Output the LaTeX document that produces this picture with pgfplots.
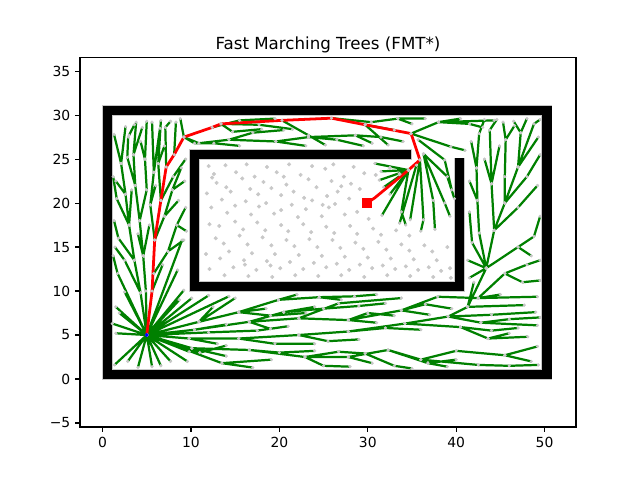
\documentclass[border=0pt]{standalone}
\usepackage{pgfplots}
\usepackage{pgfplotstable}
\pgfplotsset{compat=1.18}
\usepackage{fontspec}
\setmainfont{DejaVu Sans}
\definecolor{mgreen}{RGB}{0,128,0}
\definecolor{ptgray}{RGB}{200,200,200}

\pgfplotstableread{
x y
5 5
4.3 9.8
3.6 13.5
3.0 17.5
2.6 21
2.1 24.5
2.6 28.7
nan nan
2.1 24.5
1.3 27.8
nan nan
3.0 27.7
3.6 28.9
nan nan
3.0 17.5
1.6 20.5
1.2 23
nan nan
3.6 13.5
1.8 16.0
1.3 18
nan nan
4.3 9.8
2.5 13.5
1.4 15
nan nan
5 5
1.7 12
1.2 14
nan nan
5 5
1.5 8.2
nan nan
5 5
4.9 10
4.6 14
4.2 18
3.7 22
3.5 25.5
3.8 29.2
nan nan
3.5 25.5
4.5 28.6
nan nan
3.7 22
2.8 25.2
2.9 27.5
nan nan
4.2 18
5.0 21.5
4.8 25
5.0 29.3
nan nan
4.8 25
4.3 27
nan nan
4.6 14
5.3 17.5
nan nan
4.6 14
4.0 16.5
nan nan
3.0 17.5
3.3 21.5
nan nan
2.6 21
1.5 22.5
nan nan
5.9 15.8
5.4 19.8
5.8 23.5
5.6 29.2
nan nan
5.4 19.8
6.0 22
nan nan
5.8 23.5
6.5 28.5
nan nan
6.6 20.3
6.3 24.5
6.6 29.4
nan nan
6.3 24.5
7.0 26.5
nan nan
7.2 24.1
7.1 28.6
7.7 29.3
nan nan
8.1 25.5
8.3 29.2
nan nan
9.2 27.5
8.8 29.6
nan nan
6.6 20.3
8.0 23.0
9.4 25.0
nan nan
5.9 15.8
7.0 18.5
7.9 21.5
8.9 24.0
nan nan
7.9 21.5
9.3 22.5
nan nan
7.0 18.5
8.6 20.3
nan nan
5.8 12
7.4 14.5
8.4 17.5
9.4 19.5
nan nan
8.4 17.5
9.5 16.8
nan nan
7.4 14.5
9.2 15.8
nan nan
5 5
9.0 15.8
nan nan
5 5
8.5 12.4
nan nan
5 5
9.2 10.1
nan nan
5 5
8.7 9.0
nan nan
5.6 10.0
6.8 13
nan nan
5 5
1.35 1.6
nan nan
5 5
2.85 2.0
nan nan
5 5
4.0 1.3
nan nan
5 5
5.6 1.4
nan nan
5 5
6.6 1.5
nan nan
5 5
7.7 2.0
nan nan
5 5
9.6 2.0
nan nan
5 5
9.8 3.1
nan nan
5 5
1.5 5.2
nan nan
5 5
1.1 6.3
nan nan
5 5
1.9 7.5
nan nan
5 5
2.5 9.9
nan nan
5 5
10.1 9.2
nan nan
5 5
12 9.5
nan nan
5 5
14.3 9.4
nan nan
10.9 6.5
15 9.2
nan nan
5 5
11 3
14 3.8
nan nan
5 5
12 5.3
17.5 5.5
21 6.0
nan nan
5 5
10.9 6.5
15.4 7.6
19.9 9.0
24.5 9.3
28.5 9.4
31 9.6
nan nan
15.4 7.6
18.5 8.0
nan nan
15.4 7.6
19 7.2
23 7.5
nan nan
24.5 9.3
27 9.0
nan nan
5 5
10.4 5.6
16.6 6.5
22.2 6.9
27.8 6.7
33.8 7.8
37.9 9.35
42.5 9.2
49.2 9.35
nan nan
10.4 5.6
14 6.2
nan nan
22.2 6.9
26.7 8.6
33.8 9.2
nan nan
16.6 6.5
20.5 7.6
24.0 8.2
nan nan
20.5 7.6
25 8.0
29 8.3
32 8.6
nan nan
27.8 6.7
30 7.5
33 7.2
nan nan
33.8 7.8
37 7.3
nan nan
5 5
9.8 4.6
15.4 4.6
22.2 5.0
27.8 5.4
34.2 6.3
39.1 7.1
42.8 6.4
49.2 6.1
nan nan
9.8 4.6
13 4.0
nan nan
27.8 5.4
32.0 5.8
36.0 5.6
nan nan
39.1 7.1
41.3 8.2
47.7 8.4
nan nan
39.1 7.1
44.0 7.3
49.0 7.6
nan nan
42.8 6.4
46 6.8
49.5 7.0
nan nan
34.2 6.3
40.5 5.9
43.6 4.6
48.1 4.8
nan nan
40.5 5.9
44 5.5
47 5.8
nan nan
5 5
10.1 3.5
16.6 3.3
22.9 2.5
27.8 2.5
32.3 3.3
36.8 1.8
39.0 1.4
nan nan
16.6 3.3
20 3.0
24 3.2
nan nan
22.9 2.5
25 1.5
28 1.4
nan nan
27.8 2.5
30.5 1.8
nan nan
22.9 2.5
26.7 3.1
29.7 2.9
33 1.5
35 1.2
nan nan
32.3 3.3
36.0 2.2
42.5 1.6
46 1.5
49.3 1.6
nan nan
36.0 2.2
40.0 3.2
45.5 2.7
49.2 3.7
nan nan
36.8 1.8
40 2.2
nan nan
45.5 2.7
48.5 2.0
nan nan
5 5
13.5 1.8
19.1 2.2
nan nan
13.5 1.8
17.0 1.3
nan nan
10.1 3.5
14.0 2.6
nan nan
15.4 4.6
19.5 4.0
24.0 4.0
nan nan
22.2 5.0
25.5 4.3
29.0 4.5
nan nan
16.6 6.5
19.0 5.7
nan nan
10.9 6.5
12.5 8.2
nan nan
19.9 9.0
22.0 9.6
nan nan
27.8 6.7
31.0 6.4
nan nan
33.8 7.8
36.5 8.5
39.5 8.0
nan nan
42.5 9.2
45.0 9.6
nan nan
43.6 4.6
46.0 5.2
nan nan
41.3 8.2
43.4 12.6
44.3 16.9
45.5 20
47.0 24.1
48.8 29.0
49.5 29.5
nan nan
41.3 8.2
42.0 11.0
nan nan
43.4 12.6
41.3 13.5
nan nan
43.4 12.6
41.8 15.5
41.5 19
nan nan
43.4 12.6
42.6 16.6
42.4 20.3
42.3 24.0
42.6 27.9
43.2 29.5
nan nan
42.4 20.3
41.5 22.5
nan nan
42.3 24.0
41.7 27.0
nan nan
44.3 16.9
44.0 22.2
43.8 28.3
44.6 29.5
nan nan
44.0 22.2
44.9 26.5
nan nan
44.0 22.2
43.2 25.0
nan nan
45.5 20
45.5 23.0
45.6 27.2
45.3 29.2
nan nan
45.6 27.2
46.6 28.8
nan nan
47.0 24.1
47.3 28.0
46.5 29.3
nan nan
47.3 28.0
48.0 29.6
nan nan
47.0 24.1
49.3 27.5
nan nan
45.5 20
48.0 23.0
49.5 25.5
nan nan
44.3 16.9
47.0 19.5
49.2 22.0
nan nan
43.4 12.6
47.0 15.0
48.8 16.2
49.5 18.5
nan nan
47.0 15.0
48.5 14.0
nan nan
42.5 9.2
45.5 12.0
48.0 13.0
49.5 13.5
nan nan
45.5 12.0
47.5 11.0
49.5 11.2
nan nan
43.4 12.6
41.5 11.5
nan nan
9.2 27.5
10.9 26.8
14.3 27.2
19.6 27.0
23.3 27.5
28.6 27.7
31.5 27.5
34 27.0
nan nan
28.6 27.7
30.5 26.8
nan nan
13.4 29.0
14.7 28.1
18 28.4
nan nan
12.4 28.6
15.5 29.4
19.5 29.6
nan nan
14.3 27.2
17.0 28.0
20.5 28.3
nan nan
20.3 29.4
23.3 27.7
25.2 26.6
nan nan
13.4 29.0
17.7 28.9
21.5 28.4
nan nan
19.6 27.0
23.0 26.5
nan nan
23.3 27.5
26.5 27.2
29.5 26.5
nan nan
25.9 29.65
30.4 29.2
33.4 29.6
36.5 29.6
nan nan
33.4 29.6
35 29.0
nan nan
29.7 28.9
32.3 26.6
nan nan
29.7 28.9
33.0 28.3
nan nan
34.9 27.9
38.0 29.2
44.3 29.4
nan nan
38.0 29.2
40.5 29.6
nan nan
38.0 29.2
41.5 29.0
43 28.6
nan nan
34.9 27.9
39.4 26.4
41.0 26.0
nan nan
35.7 27.2
38.7 24.9
39.5 21.5
nan nan
36.3 25.6
38.7 20.0
39.3 18.5
nan nan
36.3 25.6
37.4 20.3
37.6 17.0
nan nan
35.9 24.9
36.3 18.1
36.0 16.8
nan nan
35.9 24.9
34.8 18.1
nan nan
35.5 24.3
33.6 17.7
nan nan
34.6 23.75
31.6 18.6
nan nan
34.6 23.75
33.8 19.0
34.3 17.5
nan nan
34.6 23.75
30.8 24.5
nan nan
34.6 23.75
31.5 23.6
nan nan
34.6 23.75
31.3 22.6
nan nan
34.6 23.75
31.8 21.8
nan nan
34.6 23.75
32.5 21.0
nan nan
36.3 25.6
39.0 23.0
39.8 20.5
nan nan
9.2 27.5
10.4 26.8
12.6 26.8
15.5 26.5
}\tree

\pgfplotstableread{
x y
12.0 24.2
12.6 23.3
13.9 24.3
15.1 23.5
16.3 24.4
17.2 23.0
18.6 24.1
19.7 23.5
21.1 24.4
22.4 23.2
23.7 24.2
25.2 23.9
26.1 24.4
27.3 23.0
28.4 24.1
29.6 23.4
12.9 22.3
14.0 21.8
15.8 22.8
16.7 21.6
18.2 22.4
19.1 21.7
20.8 22.1
21.6 21.3
23.3 22.7
24.2 21.8
25.9 22.5
26.6 21.3
28.1 22.2
29.1 21.6
11.8 21.1
13.5 20.4
14.5 21.3
16.2 20.2
17.6 21.0
18.5 20.0
20.2 20.9
21.4 19.8
22.8 20.6
23.7 20.3
25.4 20.8
26.3 19.9
27.9 20.5
12.3 19.5
14.1 18.9
15.0 19.7
16.8 18.7
17.7 19.6
19.4 18.8
20.2 19.2
22.1 18.4
23.0 19.3
24.8 18.5
25.6 19.5
27.4 18.7
28.8 19.0
30.1 18.2
12.1 17.6
13.2 17.4
15.0 17.9
15.9 17.0
17.5 17.8
18.4 16.9
20.2 17.5
21.0 16.8
22.7 17.6
23.6 16.7
25.3 17.3
26.2 16.6
28.0 17.4
28.8 16.5
30.6 17.1
31.5 16.4
33.2 16.9
34.7 16.3
12.8 16.0
13.7 15.4
15.5 16.3
16.4 15.3
18.1 16.1
19.1 15.2
20.8 15.8
21.7 15.1
23.4 15.9
24.3 15.0
26.0 15.8
26.9 14.9
28.6 15.5
29.5 14.8
31.2 15.6
32.1 14.7
33.8 15.3
34.7 14.6
36.4 15.2
37.3 14.5
39.0 15.0
11.7 14.2
13.3 13.7
14.3 14.5
16.0 13.5
16.9 14.3
18.6 13.4
19.5 14.2
21.2 13.3
22.2 14.1
23.9 13.2
24.8 14.0
26.5 13.1
27.4 13.9
29.1 13.0
30.0 13.8
31.7 12.9
32.6 13.7
34.3 12.8
35.2 13.6
36.9 12.7
37.8 13.5
39.3 12.6
12.1 12.5
13.8 11.8
14.8 12.7
16.5 11.7
17.4 12.4
19.2 11.6
20.1 12.6
21.8 11.8
22.7 12.5
24.4 11.7
25.3 12.7
27.0 11.8
27.9 12.4
29.6 11.6
30.5 12.6
32.2 11.8
33.1 12.5
34.8 11.7
35.7 12.4
37.4 11.6
38.3 12.3
39.4 11.5
32.5 24.0
33.6 23.3
30.9 23.2
12.4 22.9
20.5 23.0
24.9 19.8
19.0 12.9
27.0 21.9
16.1 13.0
}\pts

\begin{document}
\begin{tikzpicture}
\begin{axis}[
  at={(0,0)}, anchor=south west,
  scale only axis, width=357.1pt, height=265.7pt,
  xmin=-2.55, xmax=53.55, ymin=-5.45, ymax=36.5,
  xtick={0,10,20,30,40,50}, xticklabels={0,10,20,30,40,50},
  ytick={-5,0,5,10,15,20,25,30,35},
  yticklabels={−5,0,5,10,15,20,25,30,35},
  tick align=outside, tick pos=left, major tick length=3.5pt,
  every tick/.style={black, line width=0.8pt},
  axis line style={line width=0.8pt},
  tick label style={font=\fontsize{10}{12}\selectfont},
  title={Fast Marching Trees (FMT*)},
  title style={font=\fontsize{12}{14}\selectfont, yshift=-6pt},
  unbounded coords=jump,
]
% unconnected samples
\addplot[only marks, mark=*, mark size=1.25pt, color=ptgray] table[x=x,y=y] {\pts};
% walls
\addplot[color=black!22, line width=8.2pt, line cap=rect, line join=miter] coordinates {(0.55,0.5) (50.25,0.5) (50.25,30.55) (0.55,30.55) (0.55,0.5)};
\addplot[color=black, line width=6.8pt, line cap=rect, line join=miter] coordinates {(0.55,0.5) (50.25,0.5) (50.25,30.55) (0.55,30.55) (0.55,0.5)};
\addplot[color=black!22, line width=8.2pt, line join=miter] coordinates {(34.95,25.55) (10.4,25.55) (10.4,10.5) (40.35,10.5) (40.35,25.15)};
\addplot[color=black, line width=6.8pt, line join=miter] coordinates {(34.9,25.55) (10.4,25.55) (10.4,10.5) (40.35,10.5) (40.35,25.1)};
% tree nodes and edges
\addplot[only marks, mark=*, mark size=0.95pt, color=ptgray] table[x=x,y=y] {\tree};
\addplot[color=mgreen, line width=1.6pt, line join=round, line cap=butt] table[x=x,y=y] {\tree};
% path
\addplot[color=red, line width=2.0pt, line join=round] coordinates {
(5,5) (5.6,10) (5.9,15.8) (6.6,20.3) (7.2,24.1) (8.1,25.5) (9.2,27.5) (12.4,28.6) (13.4,29.0) (20.3,29.4) (25.9,29.65) (29.7,28.9) (34.9,27.9) (35.9,24.9) (34.6,23.75) (30.8,20.6) (29.9,20)};
\addplot[only marks, mark=square*, mark size=3.3pt, color=red] coordinates {(29.9,20)};
\addplot[only marks, mark=*, mark size=1.2pt, color=blue] coordinates {(5,5)};
\end{axis}
\pgfresetboundingbox
\path[use as bounding box] (-57.6pt,-38.2pt) rectangle (403.2pt,307.4pt);
\end{tikzpicture}
\end{document}
